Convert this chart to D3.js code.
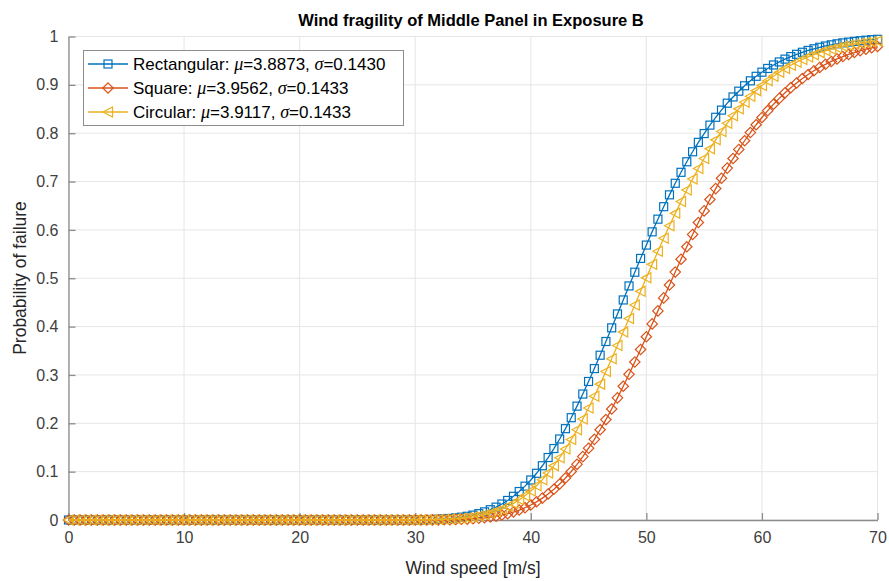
<!DOCTYPE html>
<html><head><meta charset="utf-8">
<script src="https://cdn.jsdelivr.net/npm/d3@7"></script>
<style>body{margin:0;background:#fff;} text{font-family:"Liberation Sans",Arial,sans-serif;}</style>
</head><body>
<svg id="chart" width="889" height="581"></svg>
<script>
const speeds = [0,0.5,1,1.5,2,2.5,3,3.5,4,4.5,5,5.5,6,6.5,7,7.5,8,8.5,9,9.5,
 10,10.5,11,11.5,12,12.5,13,13.5,14,14.5,15,15.5,16,16.5,17,17.5,18,18.5,19,19.5,
 20,20.5,21,21.5,22,22.5,23,23.5,24,24.5,25,25.5,26,26.5,27,27.5,28,28.5,29,29.5,
 30,30.5,31,31.5,32,32.5,33,33.5,34,34.5,35,35.5,36,36.5,37,37.5,38,38.5,39,39.5,
 40,40.5,41,41.5,42,42.5,43,43.5,44,44.5,45,45.5,46,46.5,47,47.5,48,48.5,49,49.5,
 50,50.5,51,51.5,52,52.5,53,53.5,54,54.5,55,55.5,56,56.5,57,57.5,58,58.5,59,59.5,
 60,60.5,61,61.5,62,62.5,63,63.5,64,64.5,65,65.5,66,66.5,67,67.5,68,68.5,69,69.5,70];
const rectangular = [0,0,0,0,0,0,0,0,0,0,0,0,0,0,0,0,0,0,0,0,
 0,0,0,0,0,0,0,0,0,0,0,0,0,0,0,0,0,0,0,0,
 0,0,0,0,0,0,0,0,0,0,0,0,0,0,0,0,0,0,0.0001,0.0002,
 0.0003,0.0005,0.0008,0.0011,0.0016,0.0023,0.0031,0.0043,0.0058,0.0077,0.0101,0.0131,0.0168,0.0213,0.0266,0.0330,0.0404,0.0490,0.0589,0.0700,
 0.0827,0.0966,0.1122,0.1292,0.1478,0.1675,0.1889,0.2116,0.2355,0.2605,0.2865,0.3132,0.3408,0.3692,0.3974,0.4262,0.4551,0.4841,0.5125,0.5410,
 0.5686,0.5960,0.6222,0.6480,0.6725,0.6964,0.7191,0.7409,0.7616,0.7811,0.7993,0.8167,0.8329,0.8478,0.8621,0.8750,0.8869,0.8981,0.9083,0.9177,
 0.9262,0.9339,0.9411,0.9474,0.9532,0.9585,0.9632,0.9674,0.9712,0.9746,0.9777,0.9804,0.9828,0.9849,0.9868,0.9884,0.9899,0.9912,0.9923,0.9934,0.9942];
const square = [0,0,0,0,0,0,0,0,0,0,0,0,0,0,0,0,0,0,0,0,
 0,0,0,0,0,0,0,0,0,0,0,0,0,0,0,0,0,0,0,0,
 0,0,0,0,0,0,0,0,0,0,0,0,0,0,0,0,0,0,0,0,
 0.0001,0.0001,0.0001,0.0002,0.0003,0.0005,0.0007,0.0010,0.0014,0.0019,0.0026,0.0035,0.0046,0.0061,0.0080,0.0103,0.0131,0.0165,0.0206,0.0254,
 0.0311,0.0376,0.0452,0.0538,0.0636,0.0746,0.0868,0.1003,0.1151,0.1311,0.1485,0.1668,0.1867,0.2077,0.2296,0.2526,0.2766,0.3013,0.3267,0.3527,
 0.3790,0.4056,0.4325,0.4594,0.4860,0.5128,0.5392,0.5651,0.5906,0.6153,0.6393,0.6628,0.6854,0.7068,0.7278,0.7476,0.7664,0.7844,0.8013,0.8175,
 0.8324,0.8466,0.8599,0.8720,0.8835,0.8942,0.9039,0.9130,0.9214,0.9291,0.9361,0.9425,0.9484,0.9537,0.9585,0.9629,0.9669,0.9705,0.9738,0.9767,0.9793];
const circular = [0,0,0,0,0,0,0,0,0,0,0,0,0,0,0,0,0,0,0,0,
 0,0,0,0,0,0,0,0,0,0,0,0,0,0,0,0,0,0,0,0,
 0,0,0,0,0,0,0,0,0,0,0,0,0,0,0,0,0,0,0.0001,0.0001,
 0.0002,0.0003,0.0004,0.0006,0.0009,0.0013,0.0019,0.0026,0.0036,0.0048,0.0064,0.0085,0.0110,0.0141,0.0179,0.0224,0.0279,0.0343,0.0417,0.0502,
 0.0600,0.0710,0.0834,0.0971,0.1124,0.1288,0.1468,0.1663,0.1867,0.2087,0.2318,0.2559,0.2810,0.3071,0.3336,0.3609,0.3886,0.4168,0.4447,0.4729,
 0.5008,0.5287,0.5557,0.5828,0.6087,0.6342,0.6587,0.6826,0.7051,0.7271,0.7476,0.7676,0.7862,0.8037,0.8204,0.8359,0.8503,0.8639,0.8764,0.8880,
 0.8987,0.9086,0.9178,0.9260,0.9336,0.9406,0.9468,0.9525,0.9577,0.9624,0.9666,0.9704,0.9738,0.9768,0.9796,0.9820,0.9841,0.9861,0.9878,0.9893,0.9906];
const xTicks = [0,10,20,30,40,50,60,70];
const yTicks = [0,0.1,0.2,0.3,0.4,0.5,0.6,0.7,0.8,0.9,1];
const seriesNames = ["Rectangular", "Square", "Circular"];
const seriesMu = ["3.8873", "3.9562", "3.9117"];
const seriesSigma = ["0.1430", "0.1433", "0.1433"];
const seriesColors = ["#0072BD", "#D95319", "#EDB120"];
const titleText = "Wind fragility of Middle Panel in Exposure B";
const xLabel = "Wind speed [m/s]";
const yLabel = "Probability of failure";

const svg = d3.select("#chart");
const L = 68.5, R = 877.5, T = 36.5, B = 520;
const x = d3.scaleLinear().domain([0,70]).range([L,R]);
const y = d3.scaleLinear().domain([0,1]).range([B,T]);

// grid
const g = svg.append("g");
g.selectAll(".gx").data(xTicks).enter().append("line")
  .attr("x1", d=>x(d)).attr("x2", d=>x(d)).attr("y1", T).attr("y2", B)
  .attr("stroke", "#e6e6e6").attr("stroke-width", 1);
g.selectAll(".gy").data(yTicks).enter().append("line")
  .attr("x1", L).attr("x2", R).attr("y1", d=>y(d)).attr("y2", d=>y(d))
  .attr("stroke", "#e6e6e6").attr("stroke-width", 1);

// axes
const xAxis = d3.axisBottom(x).tickValues(xTicks).tickSizeInner(-7).tickSizeOuter(0).tickPadding(12).tickFormat(d3.format("d"));
const yAxis = d3.axisLeft(y).tickValues(yTicks).tickSizeInner(-7).tickSizeOuter(0).tickPadding(10).tickFormat(d=>d3.format("~g")(d));
const ax = svg.append("g").attr("transform", `translate(0,${B})`).call(xAxis);
const ay = svg.append("g").attr("transform", `translate(${L},0)`).call(yAxis);
[ax, ay].forEach(a => {
  a.select(".domain").attr("stroke", "#8c8c8c").attr("stroke-width", 1.3);
  a.selectAll(".tick line").attr("stroke", "#8c8c8c").attr("stroke-width", 1.3);
  a.selectAll(".tick text").attr("fill", "#404040").attr("font-size", "16px").attr("font-family", "'Liberation Sans',Arial,sans-serif");
});

// series
const all = [rectangular, square, circular];
const sym = [
  (sel)=>sel.append("rect").attr("x",-4).attr("y",-4).attr("width",8).attr("height",8),
  (sel)=>sel.append("path").attr("d","M0,-5.2L5.2,0L0,5.2L-5.2,0Z"),
  (sel)=>sel.append("path").attr("d","M-5,0L4.5,-5L4.5,5Z")
];
const line = d3.line().x(d=>x(d[0])).y(d=>y(d[1]));
all.forEach((vals, i) => {
  const pts = speeds.map((s, k) => [s, vals[k]]);
  const sg = svg.append("g");
  sg.append("path").datum(pts).attr("d", line).attr("fill","none")
    .attr("stroke", seriesColors[i]).attr("stroke-width", 1.3);
  sg.selectAll("g.m").data(pts).enter().append("g")
    .attr("transform", d=>`translate(${x(d[0])},${y(d[1])})`)
    .each(function(){ sym[i](d3.select(this)).attr("fill","none").attr("stroke", seriesColors[i]).attr("stroke-width",1.2); });
});

// legend
const lg = svg.append("g");
lg.append("rect").attr("x", 83.5).attr("y", 50.5).attr("width", 320).attr("height", 75)
  .attr("fill", "#fff").attr("stroke", "#8c8c8c").attr("stroke-width", 1);
seriesNames.forEach((n, i) => {
  const cy = 64 + i*24;
  lg.append("line").attr("x1", 88).attr("x2", 128).attr("y1", cy).attr("y2", cy)
    .attr("stroke", seriesColors[i]).attr("stroke-width", 1.3);
  sym[i](lg.append("g").attr("transform", `translate(108,${cy})`))
    .attr("fill","none").attr("stroke", seriesColors[i]).attr("stroke-width",1.2);
  const t = lg.append("text").attr("x", 133).attr("y", cy + 6).attr("font-size", "17px").attr("fill", "#000");
  t.append("tspan").text(n + ": ");
  t.append("tspan").attr("font-family", "'Liberation Serif',serif").attr("font-style", "italic").attr("font-size","18px").text("\u03BC");
  t.append("tspan").text("=" + seriesMu[i] + ", ");
  t.append("tspan").attr("font-family", "'Liberation Serif',serif").attr("font-style", "italic").attr("font-size","18px").text("\u03C3");
  t.append("tspan").text("=" + seriesSigma[i]);
});

// titles
svg.append("text").attr("x", 471).attr("y", 26).attr("text-anchor","middle")
  .attr("font-size","16.5px").attr("font-weight","bold").attr("fill","#000").text(titleText);
svg.append("text").attr("x", 473).attr("y", 574).attr("text-anchor","middle")
  .attr("font-size","17.5px").attr("fill","#262626").text(xLabel);
svg.append("text").attr("transform", "translate(26,278) rotate(-90)").attr("text-anchor","middle")
  .attr("font-size","17.5px").attr("fill","#262626").text(yLabel);
</script>
</body></html>
